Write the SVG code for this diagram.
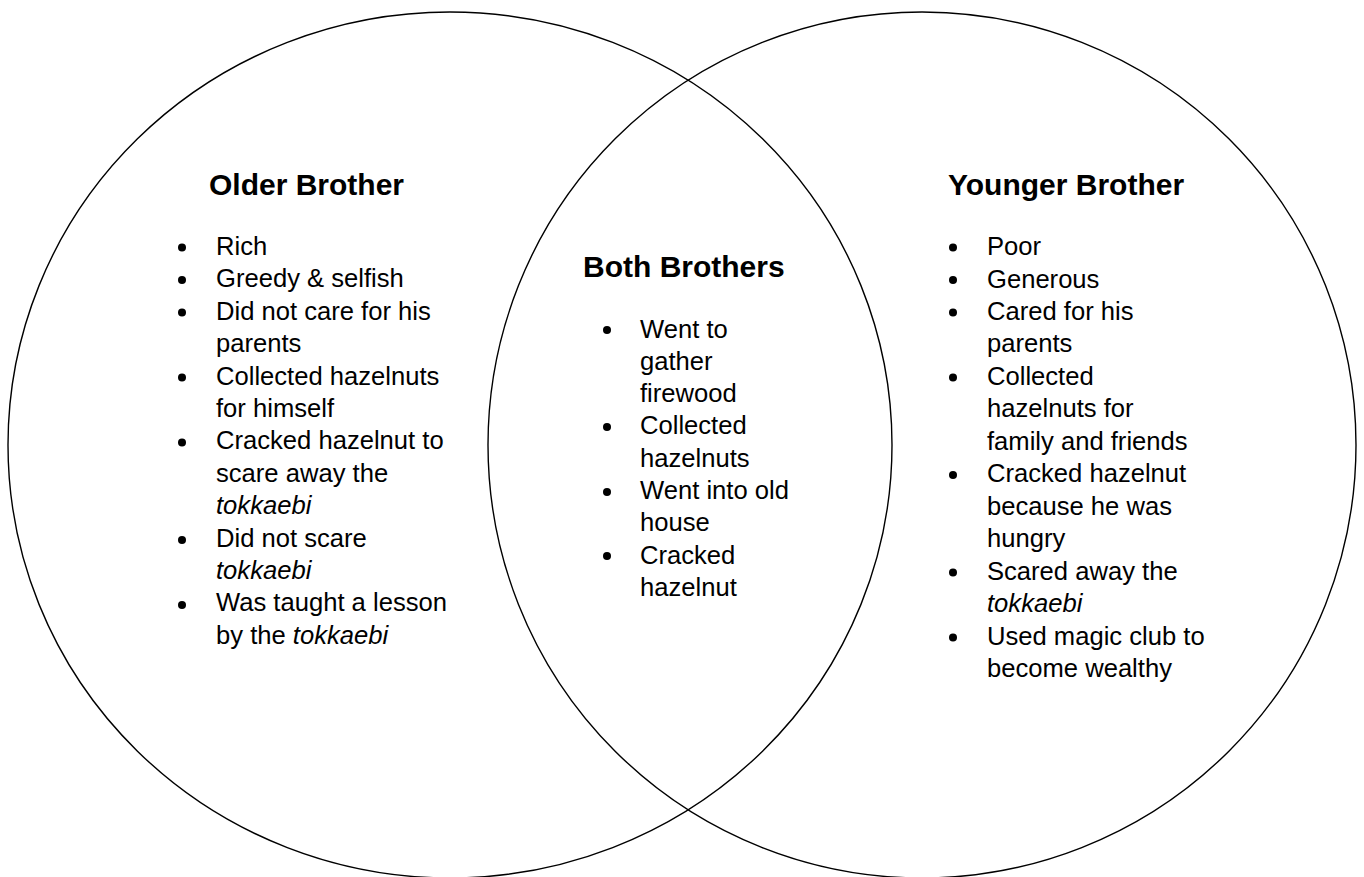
<svg xmlns="http://www.w3.org/2000/svg" width="1364" height="877" viewBox="0 0 1364 877">
<style>
.c{fill:none;stroke:#000;stroke-width:1.4}
.h{font-family:"Liberation Sans",Arial,sans-serif;font-weight:bold;font-size:30px;fill:#000}
.t{font-family:"Liberation Sans",Arial,sans-serif;font-size:25.6px;fill:#000}
.i{font-style:italic}
.b{fill:#000}
</style>
<rect width="1364" height="877" fill="#fff"/>
<g id="circles">
<ellipse id="left-circle" class="c" cx="450" cy="445" rx="442" ry="433"/>
<ellipse id="right-circle" class="c" cx="922" cy="445" rx="434" ry="433"/>
</g>
<g id="older">
<text class="h" x="209" y="195">Older Brother</text>
<g class="b">
<circle cx="182" cy="247.5" r="4"/><circle cx="182" cy="280" r="4"/><circle cx="182" cy="312.5" r="4"/><circle cx="182" cy="377.5" r="4"/><circle cx="182" cy="442.5" r="4"/><circle cx="182" cy="540" r="4"/><circle cx="182" cy="605" r="4"/>
</g>
<text class="t" x="216" y="255">Rich</text>
<text class="t" x="216" y="287.4">Greedy &amp; selfish</text>
<text class="t" x="216" y="319.8">Did not care for his</text>
<text class="t" x="216" y="352.2">parents</text>
<text class="t" x="216" y="384.6">Collected hazelnuts</text>
<text class="t" x="216" y="417">for himself</text>
<text class="t" x="216" y="449.4">Cracked hazelnut to</text>
<text class="t" x="216" y="481.8">scare away the</text>
<text class="t i" x="216" y="514.2">tokkaebi</text>
<text class="t" x="216" y="546.6">Did not scare</text>
<text class="t i" x="216" y="579">tokkaebi</text>
<text class="t" x="216" y="611.4">Was taught a lesson</text>
<text class="t" x="216" y="643.8">by the <tspan class="i">tokkaebi</tspan></text>
</g>
<g id="both">
<text class="h" x="583" y="277">Both Brothers</text>
<g class="b">
<circle cx="607" cy="330" r="4"/><circle cx="607" cy="427" r="4"/><circle cx="607" cy="492" r="4"/><circle cx="607" cy="556" r="4"/>
</g>
<text class="t" x="640" y="337.5">Went to</text>
<text class="t" x="640" y="369.8">gather</text>
<text class="t" x="640" y="402.1">firewood</text>
<text class="t" x="640" y="434.4">Collected</text>
<text class="t" x="640" y="466.7">hazelnuts</text>
<text class="t" x="640" y="499">Went into old</text>
<text class="t" x="640" y="531.3">house</text>
<text class="t" x="640" y="563.6">Cracked</text>
<text class="t" x="640" y="595.9">hazelnut</text>
</g>
<g id="younger">
<text class="h" x="948" y="195">Younger Brother</text>
<g class="b">
<circle cx="953" cy="247.5" r="4"/><circle cx="953" cy="280" r="4"/><circle cx="953" cy="312.5" r="4"/><circle cx="953" cy="377.5" r="4"/><circle cx="953" cy="475" r="4"/><circle cx="953" cy="572.5" r="4"/><circle cx="953" cy="637.5" r="4"/>
</g>
<text class="t" x="987" y="255">Poor</text>
<text class="t" x="987" y="287.5">Generous</text>
<text class="t" x="987" y="320">Cared for his</text>
<text class="t" x="987" y="352.4">parents</text>
<text class="t" x="987" y="384.8">Collected</text>
<text class="t" x="987" y="417.3">hazelnuts for</text>
<text class="t" x="987" y="449.8">family and friends</text>
<text class="t" x="987" y="482.2">Cracked hazelnut</text>
<text class="t" x="987" y="514.7">because he was</text>
<text class="t" x="987" y="547.1">hungry</text>
<text class="t" x="987" y="579.6">Scared away the</text>
<text class="t i" x="987" y="612">tokkaebi</text>
<text class="t" x="987" y="644.5">Used magic club to</text>
<text class="t" x="987" y="677">become wealthy</text>
</g>
</svg>
